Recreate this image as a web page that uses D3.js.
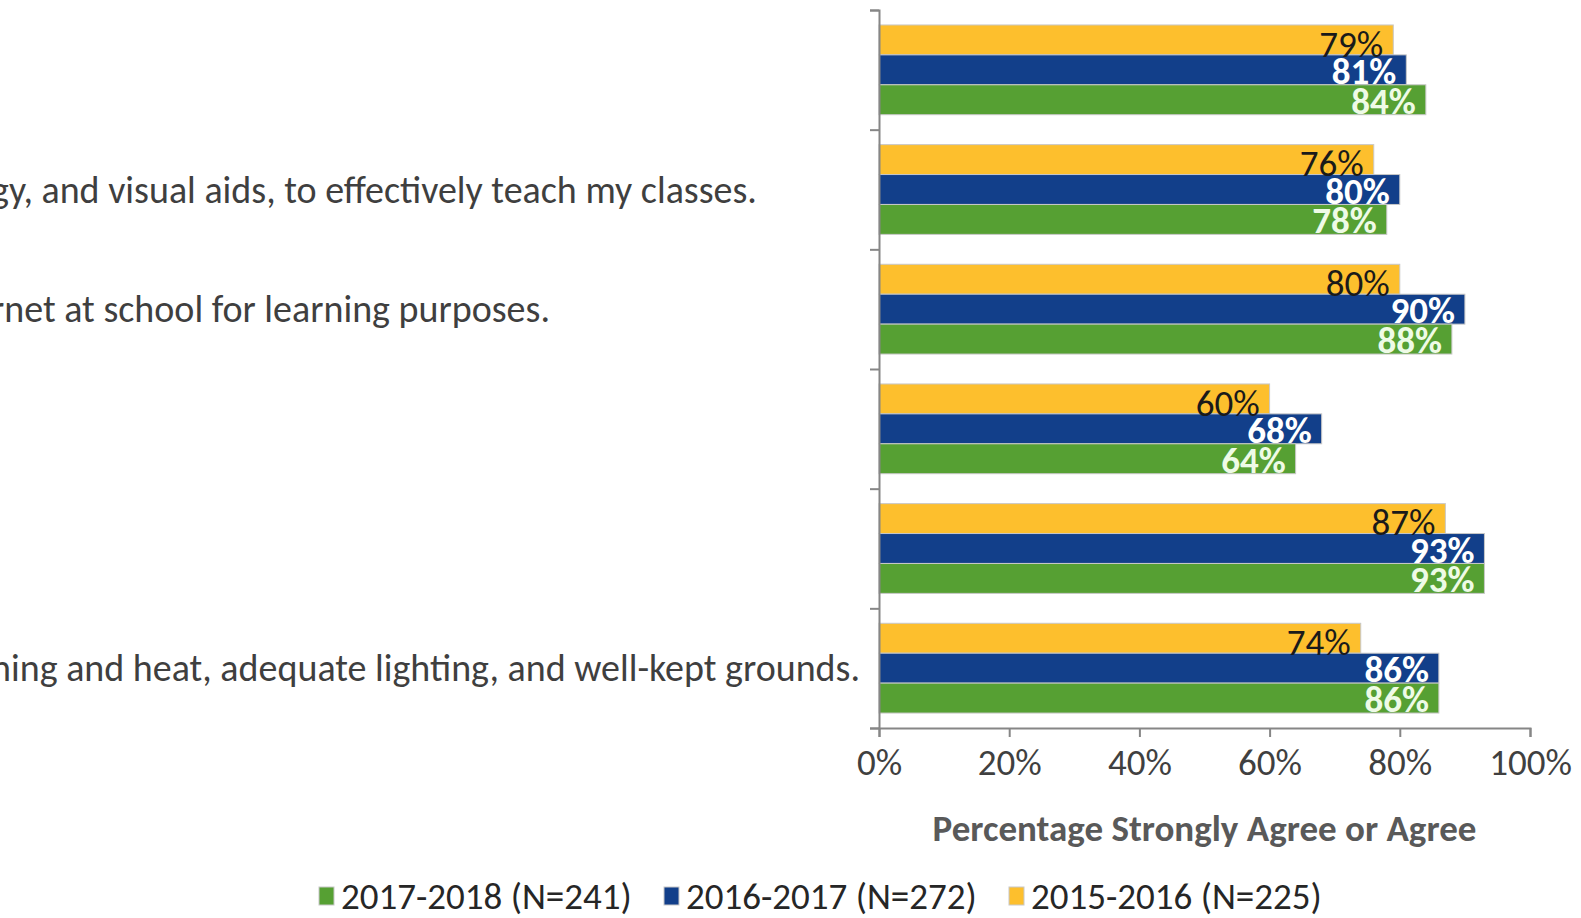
<!doctype html>
<html lang="en">
  <head>
    <meta charset="utf-8">
    <title>Percentage Strongly Agree or Agree</title>
    <style>
      body {
        margin: 0;
        background: #fff;
      }
      svg text {
        font-family: Carlito, Calibri, "Liberation Sans Narrow", "Open Sans", sans-serif;
      }
    </style>
  </head>
  <body>
    <div id="chart"></div>

    <script src="https://cdn.jsdelivr.net/npm/d3@7"></script>
    <script>
      // visible ends of the long statements (the start is cut off at the left edge)
      const categories = ['c1', 'c2', 'c3', 'c4', 'c5', 'c6']
      const categoryText = [
        '',
        'gy, and visual aids, to effectively teach my classes.',
        'rnet at school for learning purposes.',
        '',
        '',
        'ning and heat, adequate lighting, and well-kept grounds.'
      ]
      const seriesNames = ['2015-2016 (N=225)', '2016-2017 (N=272)', '2017-2018 (N=241)']
      const values2015 = [79, 76, 80, 60, 87, 74]
      const values2016 = [81, 80, 90, 68, 93, 86]
      const values2017 = [84, 78, 88, 64, 93, 86]
      const xTicks = [0, 20, 40, 60, 80, 100]
      const legendOrder = ['2017-2018 (N=241)', '2016-2017 (N=272)', '2015-2016 (N=225)']
      const axisTitle = 'Percentage Strongly Agree or Agree'

      const width = 1581
      const height = 918
      const plotLeft = 879
      const plotRight = 1530
      const plotTop = 10
      const plotBottom = 728

      const colors = {
        '2015-2016 (N=225)': '#fdbf2d',
        '2016-2017 (N=272)': '#123f8a',
        '2017-2018 (N=241)': '#56a033'
      }
      const labelColors = {
        '2015-2016 (N=225)': '#1a1a1a',
        '2016-2017 (N=272)': '#ffffff',
        '2017-2018 (N=241)': '#eefbe6'
      }

      const rows = categories.map((c, i) => ({
        category: c,
        values: [values2015[i], values2016[i], values2017[i]].map((v, j) => ({ series: seriesNames[j], value: v }))
      }))

      const svg = d3.select('#chart')
        .append('svg')
          .attr('width', width)
          .attr('height', height)

      const x = d3.scaleLinear()
        .domain([0, 100])
        .range([plotLeft, plotRight])

      const y = d3.scaleBand()
        .domain(categories)
        .range([plotTop, plotBottom])
        .paddingInner(0.25)
        .paddingOuter(0.125)

      const yInner = d3.scaleBand()
        .domain(seriesNames)
        .range([0, y.bandwidth()])

      // category labels
      const step = (plotBottom - plotTop) / categories.length
      svg.append('g')
        .selectAll('text')
        .data(categoryText)
        .join('text')
          .attr('x', -9)
          .attr('y', (d, i) => plotTop + step * i + step / 2)
          .attr('dy', '0.35em')
          .attr('fill', '#3f3f3f')
          .attr('font-size', 38)
          .text(d => d)

      // bars
      const groups = svg.append('g')
        .selectAll('g')
        .data(rows)
        .join('g')
          .attr('transform', d => `translate(0, ${y(d.category)})`)

      groups.selectAll('rect')
        .data(d => d.values)
        .join('rect')
          .attr('x', x(0))
          .attr('y', d => yInner(d.series))
          .attr('width', d => x(d.value) - x(0))
          .attr('height', yInner.bandwidth())
          .attr('fill', d => colors[d.series])
          .attr('stroke', '#c8c8c8')
          .attr('stroke-width', 1)

      groups.selectAll('text')
        .data(d => d.values)
        .join('text')
          .attr('x', d => x(d.value) - 10)
          .attr('y', d => yInner(d.series) + yInner.bandwidth() / 2)
          .attr('dy', d => d.series === seriesNames[0] ? '0.45em' : '0.38em')
          .attr('text-anchor', 'end')
          .attr('font-size', 37)
          .attr('font-weight', d => d.series === seriesNames[0] ? 'normal' : 'bold')
          .attr('fill', d => labelColors[d.series])
          .text(d => `${d.value}%`)

      // x axis
      const xAxis = d3.axisBottom(x)
        .tickValues(xTicks)
        .tickSize(9)
        .tickFormat(d => `${d}%`)

      const gx = svg.append('g')
        .attr('transform', `translate(0, ${plotBottom})`)
        .call(xAxis)
      gx.select('.domain').attr('stroke', '#868686').attr('stroke-width', 2)
      gx.selectAll('.tick line').attr('stroke', '#868686').attr('stroke-width', 2)
      gx.selectAll('.tick text')
        .attr('font-size', 37)
        .attr('fill', '#404040')
        .attr('dy', '0.95em')

      // y axis (category ticks at band edges)
      const yEdges = d3.scaleLinear().domain([0, categories.length]).range([plotTop, plotBottom])
      const gy = svg.append('g')
        .attr('transform', `translate(${plotLeft}, 0)`)
        .call(d3.axisLeft(yEdges).tickValues(d3.range(categories.length + 1)).tickSize(9).tickFormat(''))
      gy.select('.domain').attr('stroke', '#868686').attr('stroke-width', 2)
      gy.selectAll('.tick line').attr('stroke', '#868686').attr('stroke-width', 2)

      // axis title
      svg.append('text')
        .attr('x', (plotLeft + plotRight) / 2)
        .attr('y', 828)
        .attr('dy', '0.35em')
        .attr('text-anchor', 'middle')
        .attr('font-size', 37)
        .attr('font-weight', 'bold')
        .attr('fill', '#595959')
        .text(axisTitle)

      // legend
      const legend = svg.append('g')
        .attr('transform', 'translate(319, 896)')
      const itemWidth = 345
      const items = legend.selectAll('g')
        .data(legendOrder)
        .join('g')
          .attr('transform', (d, i) => `translate(${i * itemWidth}, 0)`)
      items.append('rect')
        .attr('x', 0)
        .attr('y', -9)
        .attr('width', 15)
        .attr('height', 18)
        .attr('fill', d => colors[d])
        .attr('stroke', '#c8c8c8')
      items.append('text')
        .attr('x', 22)
        .attr('y', 0)
        .attr('dy', '0.36em')
        .attr('font-size', 37)
        .attr('fill', '#262626')
        .text(d => d)
    </script>
  </body>
</html>
